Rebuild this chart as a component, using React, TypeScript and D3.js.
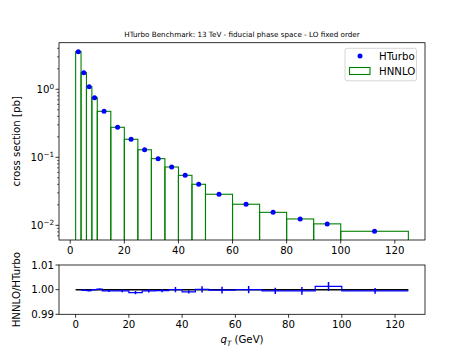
import React from "react";
import * as d3 from "d3";

const binEdges = [2, 4, 6, 8, 10, 15, 20, 25, 30, 35, 40, 45, 50, 60, 70, 80, 90, 100, 125];
const hnnloValues = [3.57, 1.75, 1.09, 0.753, 0.474, 0.276, 0.184, 0.129, 0.0955, 0.072, 0.0543, 0.0401, 0.0286, 0.0204, 0.0155, 0.0124, 0.0105, 0.00817];
const hturboValues = [3.571, 1.751, 1.09, 0.753, 0.4742, 0.2761, 0.1842, 0.1291, 0.0955, 0.072, 0.05435, 0.0401, 0.02861, 0.0204, 0.01551, 0.01241, 0.01049, 0.00817];
const ratioValues = [0.9998, 0.9996, 1.0, 1.0002, 0.9995, 0.9995, 0.9988, 0.9995, 0.9996, 1.0, 0.9991, 1.0001, 0.9998, 1.0, 0.9995, 0.9995, 1.0013, 0.9995];
const ratioErrors = [0.0003, 0.0004, 0.0003, 0.0003, 0.0005, 0.0006, 0.0007, 0.0007, 0.0007, 0.0011, 0.0007, 0.0013, 0.0014, 0.0015, 0.0013, 0.0016, 0.0018, 0.0012];
const xTicks = [0, 20, 40, 60, 80, 100, 120];
const yMajorExps = [0, -1, -2];
const ratioTicks = [0.99, 1.0, 1.01];
const titleText = "HTurbo Benchmark: 13 TeV - fiducial phase space - LO fixed order";

const FONT = "DejaVu Sans, sans-serif";
const L = 59, R = 425;
const T1 = 42.7, B1 = 240;
const T2 = 265, B2 = 314.3;

export default function App() {
  const x1 = d3.scaleLinear().domain([-4.15, 131.15]).range([L, R]);
  const y1 = d3.scaleLog().domain([0.00608, 4.84]).range([B1, T1]);
  const x2 = d3.scaleLinear().domain([-6.25, 131.25]).range([L, R]);
  const y2 = d3.scaleLinear().domain([0.99, 1.01]).range([B2, T2]);

  const bins = hnnloValues.map((v, i) => ({ x0: binEdges[i], x1: binEdges[i + 1], v, t: hturboValues[i], r: ratioValues[i], e: ratioErrors[i] }));

  const minor: number[] = [];
  for (let e = -3; e <= 1; e++) for (let k = 2; k <= 9; k++) {
    const v = k * Math.pow(10, e);
    if (v >= 0.00608 && v <= 4.84) minor.push(v);
  }

  const ratioStep = d3.line<[number, number]>().curve(d3.curveStepAfter)
    .x(d => x2(d[0])).y(d => y2(d[1]))(
      [...bins.map(b => [b.x0, b.r] as [number, number]), [binEdges[binEdges.length - 1], ratioValues[ratioValues.length - 1]]]
    );

  const tickLen = 3.5;
  return (
    <div style={{ position: "absolute", left: 0, top: 0 }}>
      <svg width={472} height={354} style={{ display: "block", background: "#fff" }} fontFamily={FONT}>
        <rect width={472} height={354} fill="#fff" />
        <text x={242} y={36.5} fontSize={7.2} textAnchor="middle">{titleText}</text>

        {/* main panel */}
        <defs>
          <clipPath id="c1"><rect x={L} y={T1} width={R - L} height={B1 - T1} /></clipPath>
          <clipPath id="c2"><rect x={L} y={T2} width={R - L} height={B2 - T2} /></clipPath>
        </defs>
        <g clipPath="url(#c1)">
          {bins.map((b, i) => (
            <rect key={i} x={x1(b.x0)} y={y1(b.v)} width={x1(b.x1) - x1(b.x0)} height={B1 + 5 - y1(b.v)}
              fill="none" stroke="#008000" strokeWidth={1.1} />
          ))}
          {bins.map((b, i) => (
            <circle key={i} cx={x1((b.x0 + b.x1) / 2)} cy={y1(b.t)} r={2.5} fill="#0000ff" />
          ))}
        </g>
        <rect x={L} y={T1} width={R - L} height={B1 - T1} fill="none" stroke="#000" strokeWidth={0.8} />
        {xTicks.map(t => (
          <g key={t}>
            <line x1={x1(t)} x2={x1(t)} y1={B1} y2={B1 + tickLen} stroke="#000" strokeWidth={0.8} />
            <text x={x1(t)} y={B1 + 14} fontSize={10.2} textAnchor="middle">{t}</text>
          </g>
        ))}
        {yMajorExps.map(e => (
          <g key={e}>
            <line x1={L - tickLen} x2={L} y1={y1(Math.pow(10, e))} y2={y1(Math.pow(10, e))} stroke="#000" strokeWidth={0.8} />
            <text x={L - 5} y={y1(Math.pow(10, e)) + 3.8} fontSize={10.2} textAnchor="end">
              10<tspan dy={-4.5} fontSize={7.2}>{e < 0 ? "\u2212" + Math.abs(e) : String(e)}</tspan>
            </text>
          </g>
        ))}
        {minor.map((v, i) => (
          <line key={i} x1={L - 2} x2={L} y1={y1(v)} y2={y1(v)} stroke="#000" strokeWidth={0.6} />
        ))}
        <text transform={`translate(20,${(T1 + B1) / 2}) rotate(-90)`} fontSize={10.2} textAnchor="middle">cross section [pb]</text>

        {/* legend */}
        <rect x={345} y={48.3} width={71.5} height={32.5} rx={2} fill="#fff" fillOpacity={0.8} stroke="#cccccc" strokeWidth={0.8} />
        <circle cx={360} cy={56} r={2.5} fill="#0000ff" />
        <text x={379} y={59.6} fontSize={10.2}>HTurbo</text>
        <rect x={349.5} y={67.5} width={20.5} height={7} fill="none" stroke="#008000" strokeWidth={1.1} />
        <text x={379} y={74.6} fontSize={10.2}>HNNLO</text>

        {/* ratio panel */}
        <g clipPath="url(#c2)">
          <line x1={x2(0)} x2={x2(125)} y1={y2(1)} y2={y2(1)} stroke="#000" strokeWidth={1.5} />
          <path d={ratioStep || ""} fill="none" stroke="#0000ff" strokeWidth={1.2} />
          {bins.map((b, i) => (
            <line key={i} x1={x2((b.x0 + b.x1) / 2)} x2={x2((b.x0 + b.x1) / 2)} y1={y2(b.r - b.e)} y2={y2(b.r + b.e)}
              stroke="#0000ff" strokeWidth={1.5} />
          ))}
        </g>
        <rect x={L} y={T2} width={R - L} height={B2 - T2} fill="none" stroke="#000" strokeWidth={0.8} />
        {xTicks.map(t => (
          <g key={t}>
            <line x1={x2(t)} x2={x2(t)} y1={B2} y2={B2 + tickLen} stroke="#000" strokeWidth={0.8} />
            <text x={x2(t)} y={B2 + 14} fontSize={10.2} textAnchor="middle">{t}</text>
          </g>
        ))}
        {ratioTicks.map(t => (
          <g key={t}>
            <line x1={L - tickLen} x2={L} y1={y2(t)} y2={y2(t)} stroke="#000" strokeWidth={0.8} />
            <text x={L - 5} y={y2(t) + 3.8} fontSize={10.2} textAnchor="end">{t.toFixed(2)}</text>
          </g>
        ))}
        <text transform={`translate(20,${(T2 + B2) / 2}) rotate(-90)`} fontSize={10.2} textAnchor="middle">HNNLO/HTurbo</text>
        <text x={242} y={343} fontSize={10.2} textAnchor="middle">
          <tspan fontStyle="italic">q</tspan><tspan fontStyle="italic" fontSize={7.2} dy={2.5}>T</tspan><tspan dy={-2.5}> (GeV)</tspan>
        </text>
      </svg>
    </div>
  );
}
